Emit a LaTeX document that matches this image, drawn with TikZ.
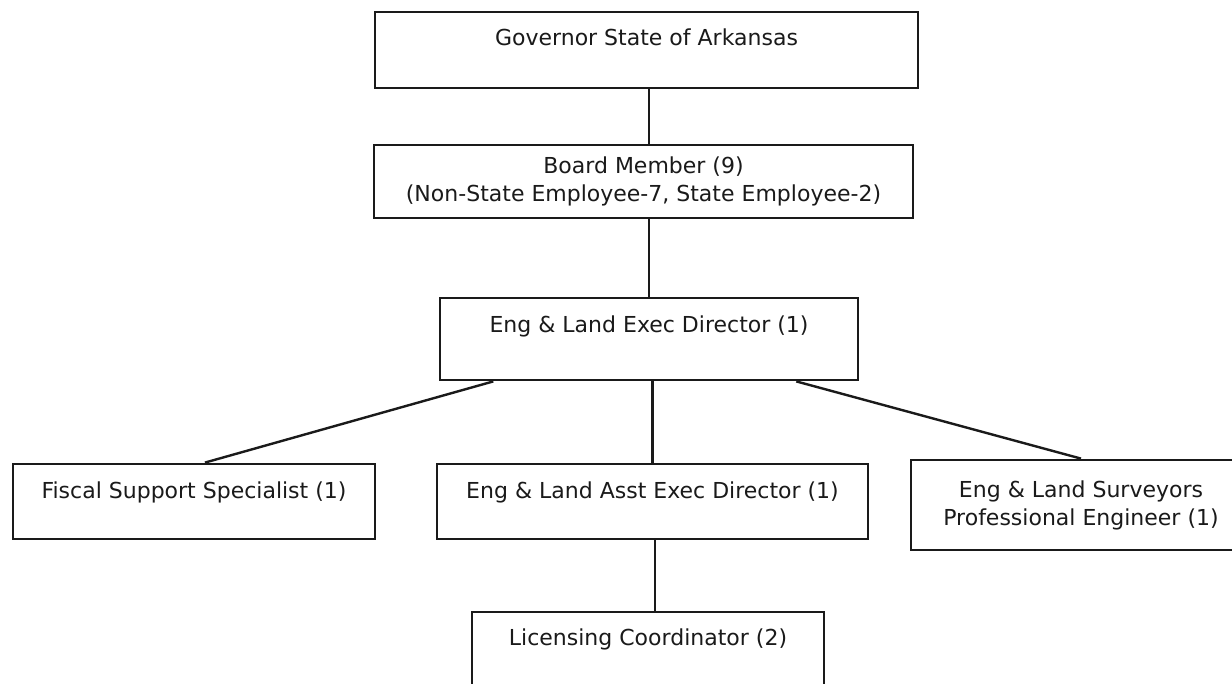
\documentclass[tikz,border=0pt]{standalone}
\usepackage{fontspec}
\setmainfont{DejaVu Sans}
\usetikzlibrary{calc}
\definecolor{ink}{HTML}{1A1A1A}
\begin{document}
\begin{tikzpicture}[x=1pt,y=-1pt,
  box/.style={draw=ink, line width=2.8pt, align=center, inner sep=0pt,
    text=ink, font=\fontsize{22}{28}\selectfont},
  onel/.style={text height=16pt, text depth=#1},
  link/.style={draw=ink, line width=2.4pt}]
\fill[white] (0,0) rectangle (1232,684);
\useasboundingbox (0,0) rectangle (1232,684);

\node[box, onel=24pt, minimum width=543, minimum height=76] (gov) at (646.5,50) {Governor State of Arkansas};
\node[box, minimum width=539, minimum height=73] (board) at (643.5,181.5) {Board Member (9)\\(Non-State Employee-7, State Employee-2)};
\node[box, onel=28pt, minimum width=418, minimum height=82] (exec) at (649,339) {Eng \& Land Exec Director (1)};
\node[box, onel=23pt, minimum width=362, minimum height=75] (fiscal) at (194,501.5) {Fiscal Support Specialist (1)};
\node[box, onel=23pt, minimum width=431, minimum height=75] (asst) at (652.5,501.5) {Eng \& Land Asst Exec Director (1)};
\node[box, minimum width=340, minimum height=90] (surv) at (1081,505) {Eng \& Land Surveyors\\Professional Engineer (1)};
\node[box, onel=28pt, minimum width=352, minimum height=78] (lic) at (648,651) {Licensing Coordinator (2)};

\draw[link] (gov.south -| exec.north) -- (board.north -| exec.north);
\draw[link] (board.south -| exec.north) -- (exec.north);
\draw[link] ($(exec.south west)!0.13!(exec.south east)$) -- ($(fiscal.north west)!0.53!(fiscal.north east)$);
\draw[link] (exec.south -| asst.north) -- (asst.north);
\draw[link] ($(exec.south west)!0.85!(exec.south east)$) -- (surv.north);
\draw[link] ([xshift=2.5pt]asst.south) -- ([xshift=2.5pt]asst.south |- lic.north);
\end{tikzpicture}
\end{document}
